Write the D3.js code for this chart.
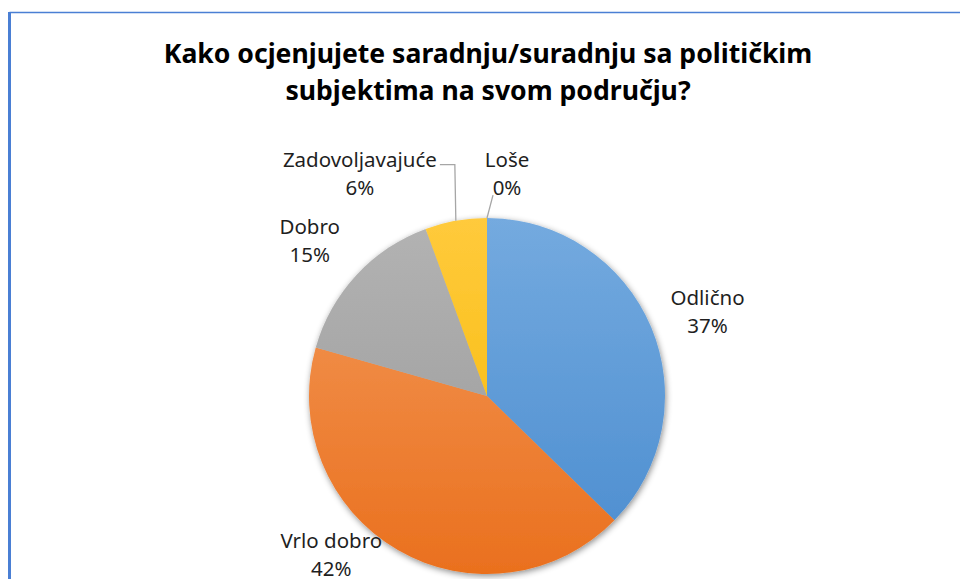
<!DOCTYPE html>
<html>
<head>
<meta charset="utf-8">
<script src="https://cdn.jsdelivr.net/npm/d3@7"></script>
<style>
  body { margin: 0; background: #fff; }
  text { font-family: "Noto Sans", sans-serif; }
</style>
</head>
<body>
<div id="chart"></div>
<script>
var titleLines = ["Kako ocjenjujete saradnju/suradnju sa političkim", "subjektima na svom području?"];
var categories = ["Odlično", "Vrlo dobro", "Dobro", "Zadovoljavajuće", "Loše"];
var values = [37.3, 42.1, 15.0, 5.6, 0];
var percentLabels = ["37%", "42%", "15%", "6%", "0%"];

var colorsTop = ["#74aadf", "#f39a5a", "#b3b3b3", "#ffca3c", "#7a7a7a"];
var colorsBottom = ["#4a8ccf", "#ea701e", "#989898", "#f5b800", "#5a5a5a"];

var width = 960, height = 579;
var cx = 487, cy = 396, radius = 178;

var svg = d3.select("#chart").append("svg")
    .attr("width", width)
    .attr("height", height);

var defs = svg.append("defs");

var shadow = defs.append("filter")
    .attr("id", "shadow")
    .attr("x", "-20%").attr("y", "-20%")
    .attr("width", "140%").attr("height", "140%");
shadow.append("feDropShadow")
    .attr("dx", 1).attr("dy", 2)
    .attr("stdDeviation", 3)
    .attr("flood-color", "#000")
    .attr("flood-opacity", 0.45);

categories.forEach(function (c, i) {
    var g = defs.append("linearGradient")
        .attr("id", "grad" + i)
        .attr("gradientUnits", "userSpaceOnUse")
        .attr("x1", 0).attr("y1", -radius)
        .attr("x2", 0).attr("y2", radius);
    g.append("stop").attr("offset", "0%").attr("stop-color", colorsTop[i]);
    g.append("stop").attr("offset", "100%").attr("stop-color", colorsBottom[i]);
});

// frame border (only left and top visible in the reference)
svg.append("line")
    .attr("x1", 9.5).attr("y1", 12.5).attr("x2", width).attr("y2", 12.5)
    .attr("stroke", "#4a7fd4").attr("stroke-width", 1.5);
svg.append("line")
    .attr("x1", 9.5).attr("y1", 12).attr("x2", 9.5).attr("y2", height)
    .attr("stroke", "#4a7fd4").attr("stroke-width", 3);

svg.append("g")
    .selectAll("text")
    .data(titleLines)
    .enter().append("text")
    .attr("x", cx + 1)
    .attr("y", function (d, i) { return 63 + i * 37; })
    .attr("text-anchor", "middle")
    .attr("font-size", 26.6)
    .attr("font-weight", "bold")
    .attr("fill", "#000")
    .text(function (d) { return d; });

var data = categories.map(function (c, i) {
    return { name: c, value: values[i], pct: percentLabels[i], idx: i };
});

var pie = d3.pie()
    .sort(null)
    .value(function (d) { return d.value; });

var arcs = pie(data);

var arc = d3.arc().innerRadius(0).outerRadius(radius);

var chartG = svg.append("g")
    .attr("transform", "translate(" + cx + "," + cy + ")");

chartG.append("g")
    .attr("filter", "url(#shadow)")
    .selectAll("path")
    .data(arcs)
    .enter().append("path")
    .attr("d", arc)
    .attr("fill", function (d) { return "url(#grad" + d.data.idx + ")"; });

// label placement: polar radius along slice mid-angle, with nudges
var labelArc = d3.arc().innerRadius(radius * 1.32).outerRadius(radius * 1.32);
var nudges = [[4, 14], [-38, -37], [-5, 12], [-86, 16], [20, 20]];

function midAngle(d) { return (d.startAngle + d.endAngle) / 2; }

var labelPos = arcs.map(function (d, i) {
    var c = labelArc.centroid(d);
    return [c[0] + nudges[i][0], c[1] + nudges[i][1]];
});

// leader lines for the small slices
var leaders = [
    null, null, null,
    function (d, p) {
        var a = midAngle(d);
        var sx = Math.sin(a) * radius, sy = -Math.cos(a) * radius;
        return [[sx, sy], [sx - 1, p[1] - 16], [p[0] + 80, p[1] - 16]];
    },
    function (d, p) {
        var a = midAngle(d);
        var sx = Math.sin(a) * radius, sy = -Math.cos(a) * radius;
        return [[sx, sy], [p[0] - 14, p[1] + 14]];
    }
];

chartG.append("g")
    .selectAll("path")
    .data(arcs.filter(function (d, i) { return leaders[i]; }))
    .enter().append("path")
    .attr("d", function (d) {
        var i = d.data.idx;
        return d3.line()(leaders[i](d, labelPos[i]));
    })
    .attr("fill", "none")
    .attr("stroke", "#a6a6a6")
    .attr("stroke-width", 1.3);

var labels = chartG.append("g")
    .selectAll("text")
    .data(arcs)
    .enter().append("text")
    .attr("text-anchor", "middle")
    .attr("font-size", 20.5)
    .attr("fill", "#1f1f1f")
    .attr("transform", function (d, i) {
        return "translate(" + labelPos[i][0] + "," + labelPos[i][1] + ")";
    });

labels.append("tspan")
    .attr("x", 0).attr("y", -14)
    .text(function (d) { return d.data.name; });
labels.append("tspan")
    .attr("x", 0).attr("y", 14)
    .text(function (d) { return d.data.pct; });
</script>
</body>
</html>
